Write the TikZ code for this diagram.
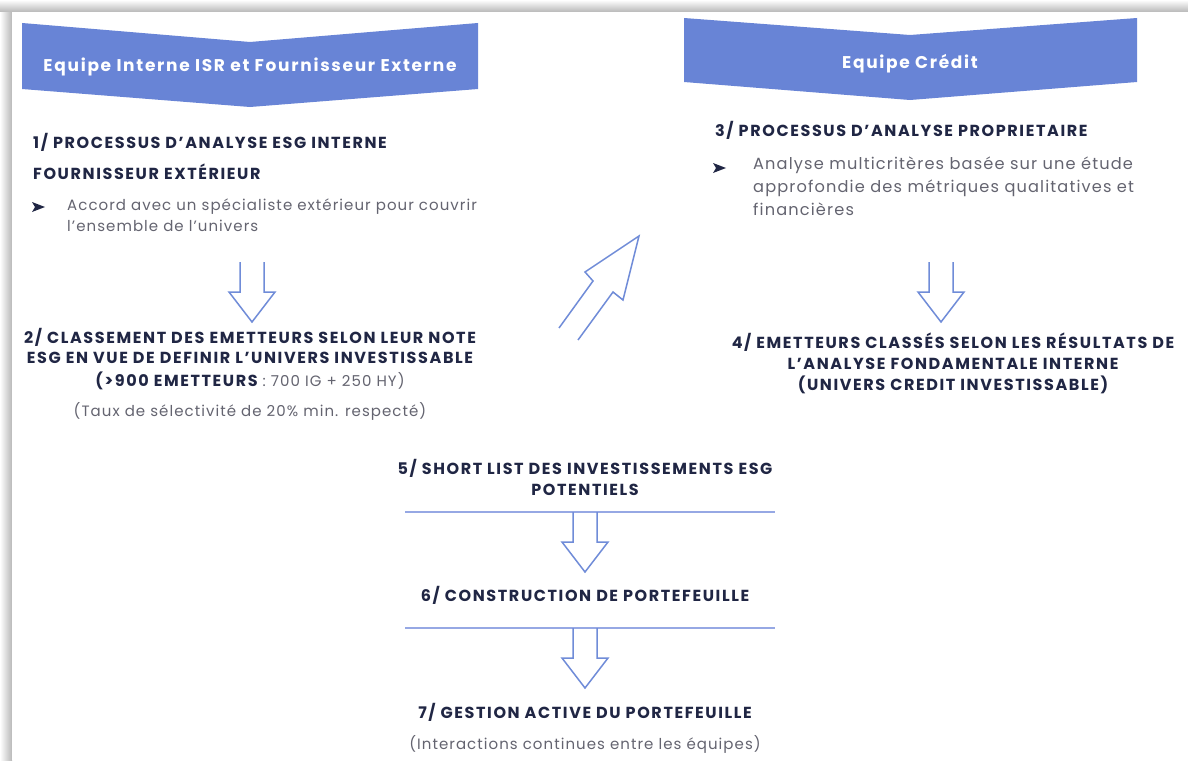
\documentclass[tikz,border=0pt]{standalone}
\usepackage{fontspec}
\setmainfont{Poppins}
\newfontfamily\hfont[LetterSpace=10]{Poppins}
\newfontfamily\bfont[LetterSpace=7]{Poppins}
\newfontfamily\tfont[LetterSpace=10]{Poppins}
\definecolor{banner}{RGB}{104,132,214}
\definecolor{navy}{RGB}{32,38,68}
\definecolor{txtgray}{RGB}{100,100,112}
\definecolor{arrowblue}{RGB}{112,140,216}
\definecolor{ruleblue}{RGB}{150,168,228}
\tikzset{
  head/.style={font=\hfont\bfseries\fontsize{16}{19}\selectfont, text=navy, inner sep=0},
  body/.style={font=\bfont\fontsize{15}{18}\selectfont, text=txtgray, inner sep=0},
  bodyr/.style={font=\bfont\fontsize{16.2}{19}\selectfont, text=txtgray, inner sep=0},
  bannertext/.style={font=\tfont\bfseries\fontsize{17}{20}\selectfont, text=white, inner sep=0},
  hollow/.style={draw=arrowblue, line width=1.5pt, line join=miter},
  sep/.style={draw=ruleblue, line width=2pt},
  downarr/.pic={\draw[hollow] (-12,0) -- (-12,30) -- (-23,30) -- (0,60) -- (23,30) -- (12,30) -- (12,0);}
}
\begin{document}
\begin{tikzpicture}[x=1pt,y=-1pt]
\useasboundingbox (0,0) rectangle (1188,760);
\fill[white] (0,0) rectangle (1188,760);
\shade[left color=white, right color=black!28] (0,0) rectangle (12,760);
\shade[top color=white, bottom color=black!28] (0,0) rectangle (1188,12);
\fill[white] (12,12) rectangle (1188,760);

% banners
\fill[banner] (22,23) -- (250,42) -- (478,23) -- (478,89) -- (250,107) -- (22,89) -- cycle;
\node[bannertext] (b1) at (250,67) {Equipe Interne ISR et Fournisseur Externe};
\fill[banner] (684,18) -- (910,35) -- (1137,18) -- (1137,82) -- (910,100) -- (684,82) -- cycle;
\node[bannertext] (b2) at (910,64) {Equipe Crédit};

% step 1
\node[head, anchor=base west] (s1a) at (33,148) {1/ PROCESSUS D’ANALYSE ESG INTERNE};
\node[head, anchor=base west] (s1b) at (33,179) {FOURNISSEUR EXTÉRIEUR};
\fill[navy] (32,202) -- (45,207) -- (32,212) -- (35,207) -- cycle;
\node[body, anchor=base west] (s1c) at (67,210) {Accord avec un spécialiste extérieur pour couvrir};
\node[body, anchor=base west] (s1d) at (67,231) {l’ensemble de l’univers};

\pic at (252,262) {downarr};

% step 2
\node[head, anchor=base] (s2a) at (250,343) {2/ CLASSEMENT DES EMETTEURS SELON LEUR NOTE};
\node[head, anchor=base] (s2b) at (250,363) {ESG EN VUE DE DEFINIR L’UNIVERS INVESTISSABLE};
\node[head, anchor=base] (s2c) at (250,386) {(>900 EMETTEURS {\bfont\mdseries\fontsize{15}{18}\selectfont\color{txtgray}: 700 IG + 250 HY)}};
\node[body, anchor=base] (s2d) at (250,416) {(Taux de sélectivité de 20\% min. respecté)};

% step 3
\node[head, anchor=base west] (s3a) at (715,136) {3/ PROCESSUS D’ANALYSE PROPRIETAIRE};
\fill[navy] (713,163) -- (726,168) -- (713,173) -- (716,168) -- cycle;
\node[bodyr, anchor=base west] (s3b) at (753,169) {Analyse multicritères basée sur une étude};
\node[bodyr, anchor=base west] (s3c) at (753,192) {approfondie des métriques qualitatives et};
\node[bodyr, anchor=base west] (s3d) at (753,215) {financières};

\pic at (941,262) {downarr};

% step 4
\node[head, anchor=base] (s4a) at (953,348) {4/ EMETTEURS CLASSÉS SELON LES RÉSULTATS DE};
\node[head, anchor=base] (s4b) at (953,369) {L’ANALYSE FONDAMENTALE INTERNE};
\node[head, anchor=base] (s4c) at (953,390) {(UNIVERS CREDIT INVESTISSABLE)};

% diagonal arrow
\draw[hollow] (559,328) -- (593,281) -- (585,272) -- (639,236) -- (623,300) -- (613,292) -- (578,340);

% step 5
\node[head, anchor=base] (s5a) at (585,474) {5/ SHORT LIST DES INVESTISSEMENTS ESG};
\node[head, anchor=base] (s5b) at (585,495) {POTENTIELS};
\draw[sep] (405,512) -- (775,512);
\pic at (585,512) {downarr};

% step 6
\node[head, anchor=base] (s6) at (585,601) {6/ CONSTRUCTION DE PORTEFEUILLE};
\draw[sep] (405,628) -- (775,628);
\pic at (585,628) {downarr};

% step 7
\node[head, anchor=base] (s7a) at (585,718) {7/ GESTION ACTIVE DU PORTEFEUILLE};
\node[body, anchor=base] (s7b) at (585,749) {(Interactions continues entre les équipes)};
\end{tikzpicture}
\end{document}
